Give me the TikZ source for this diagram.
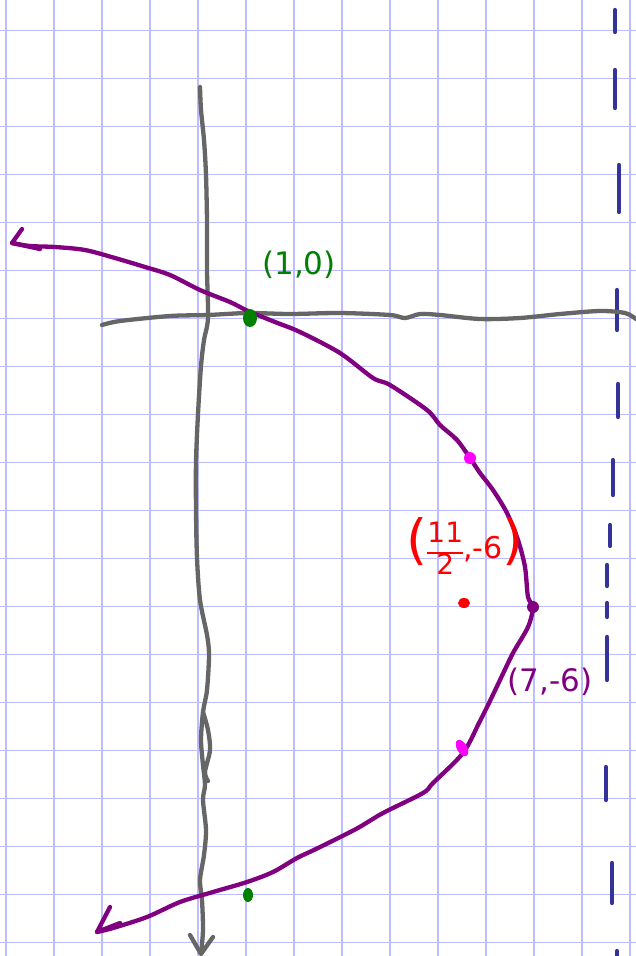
\documentclass[tikz,border=0pt]{standalone}
\usepackage{fontspec}
\setmainfont{DejaVu Sans}
\definecolor{gridc}{HTML}{BCBCFF}
\definecolor{axisc}{HTML}{666666}
\definecolor{curvec}{HTML}{800080}
\definecolor{asymc}{HTML}{333399}
\definecolor{ptgreen}{HTML}{008000}
\definecolor{ptmag}{HTML}{FF00FF}
\tikzset{
  gridline/.style={gridc, line width=1.8pt},
  axisline/.style={axisc, line width=4.3pt, line cap=round, line join=round},
  curveline/.style={curvec, line width=4.3pt, line cap=round, line join=round},
  asymline/.style={asymc, line width=4.3pt, line cap=round},
  lbl/.style={font=\fontsize{31}{35}\selectfont, inner sep=0pt}
}
\newcommand{\redfrac}{\fontsize{28}{30}\selectfont\setlength{\arrayrulewidth}{2.5pt}\renewcommand{\arraystretch}{0.85}\begin{tabular}{@{}c@{}}11\\[2pt]\hline 2\end{tabular}}
\begin{document}
\begin{tikzpicture}[x=1pt,y=-1pt]
\useasboundingbox (0,0) rectangle (636,956);
\fill[white] (0,0) rectangle (636,956);
% grid
\foreach \k in {0,...,13} { \draw[gridline] (6+48*\k,0) -- (6+48*\k,956); }
\foreach \k in {0,...,19} { \draw[gridline] (0,30.5+48*\k) -- (636,30.5+48*\k); }
% asymptote dashes
\foreach \xa/\ya/\yb in {615/10/32, 615/70/108, 619/165/212, 617/290/330, 618/384/417, 613/460/495, 610/525/546, 607/565/586, 607/603/617, 607/637/680, 606/767/800, 612/863/903, 617/951/960}
  { \draw[asymline] (\xa,\ya) -- (\xa,\yb); }
% axes
\draw[axisline] plot[smooth] coordinates {(102,325) (120,321) (170,316) (208,315) (248,313) (290,314) (340,313) (390,315) (405,318) (420,314) (440,315) (480,319) (520,318) (560,314) (600,311) (625,313) (636,319)};
\draw[axisline] plot[smooth] coordinates {(200,87) (201,110) (204,140) (206,175) (207,222) (207,270) (208,318) (204,340) (201,366) (198,414) (196,462) (196,510) (197,558) (200,600) (207,635) (209,655) (207,690) (203,712) (201,740) (203,765) (205,785) (203,800) (206,830) (204,855) (200,880) (202,900) (203,930) (201,953)};
\draw[axisline] plot[smooth] coordinates {(203,712) (208,730) (210,750) (205,772) (208,781)};
\draw[axisline] (190,935) -- (201,954) -- (213,937);
% parabola
\draw[curveline] plot[smooth, tension=0.5] coordinates {(12,243) (30,246) (55,247) (85,250) (115,258) (145,267) (170,275) (200,290) (230,302) (248,311) (275,322) (300,332) (340,353) (373,378) (390,385) (427,410) (440,425) (457,440) (470,458) (480,473) (493,490) (507,513) (518,540) (525,567) (528,597) (533,607) (528,627) (513,653) (500,680) (489,703) (479,723) (463,753) (433,783) (423,793) (383,813) (356,829) (316,849) (297,858) (273,872) (247,882) (213,892) (180,902) (147,917) (113,928) (97,932)};
\draw[curveline] (22,229) -- (12,243) -- (40,249);
\draw[curveline] (110,907) -- (97,932) -- (120,923);
% points
\fill[ptgreen] (250,318) ellipse [x radius=7, y radius=9];
\fill[ptgreen] (248,895) ellipse [x radius=5, y radius=7];
\fill[ptmag] (470,458) circle (6);
\fill[ptmag, rotate around={30:(462,748)}] (462,748) ellipse [x radius=5, y radius=9];
\fill[red] (464,603) ellipse [x radius=6, y radius=5];
\fill[curvec] (533,607) circle (6);
% labels
\node[lbl, text=ptgreen] (lblA) at (299,265) {(1,0)};
\node[inner sep=0pt, text=red] (lblB) at (465,550) {\fontsize{54}{54}\selectfont(\redfrac\fontsize{30}{34}\selectfont,-6\fontsize{54}{54}\selectfont)};
\node[lbl, text=curvec] (lblC) at (550,682) {(7,-6)};
\end{tikzpicture}
\end{document}
